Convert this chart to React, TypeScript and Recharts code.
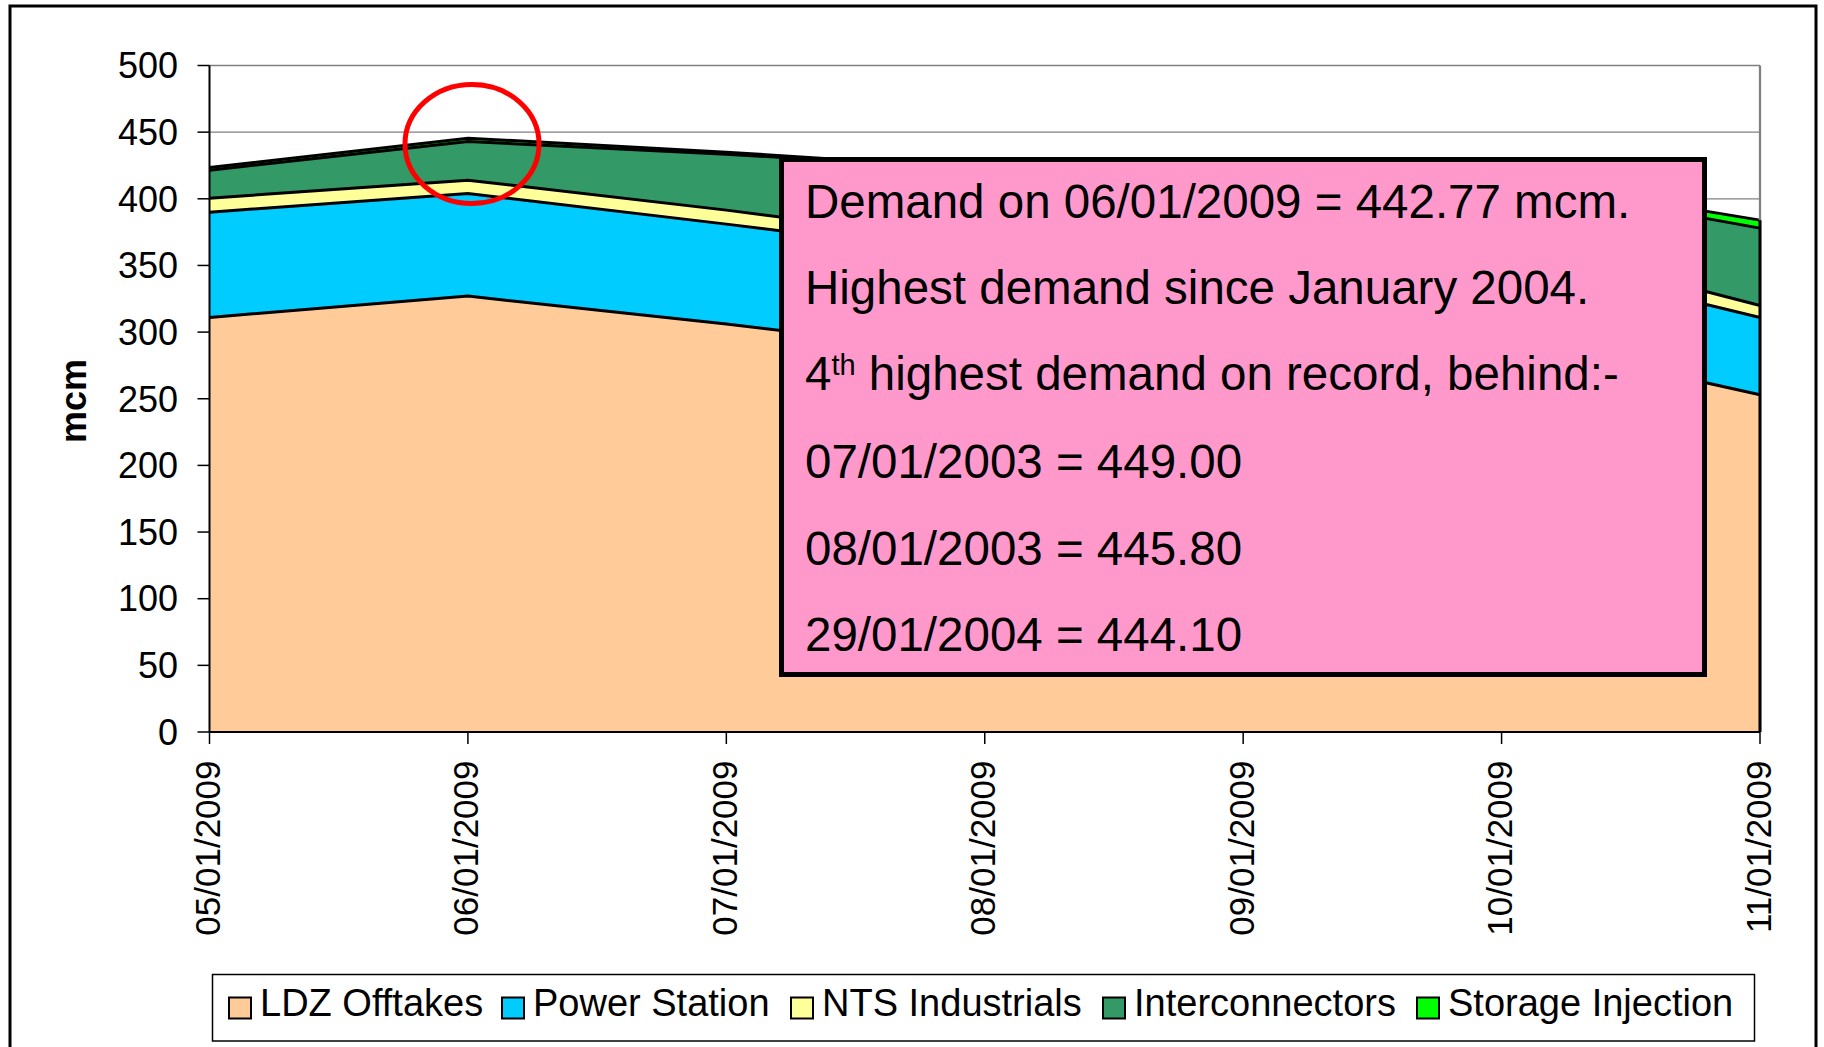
import React from 'react';
import { AreaChart, Area, XAxis, YAxis, CartesianGrid, ReferenceLine } from 'recharts';

// ---- data ----
const dates = ['05/01/2009', '06/01/2009', '07/01/2009', '08/01/2009', '09/01/2009', '10/01/2009', '11/01/2009'];
const ldzOfftakes = [311, 327, 306, 283, 290, 296, 253];
const powerStation = [79, 77, 75, 74, 68, 62, 58];
const ntsIndustrials = [10.5, 10, 10.5, 10, 11, 12, 9];
const interconnectors = [21, 29, 42, 55, 48, 43, 58];
const storageInjection = [2, 2.5, 1.5, 0.5, 2, 3, 6];
const yTicks = [0, 50, 100, 150, 200, 250, 300, 350, 400, 450, 500];

const seriesNames = ['LDZ Offtakes', 'Power Station', 'NTS Industrials', 'Interconnectors', 'Storage Injection'];
const seriesKeys = ['ldz', 'power', 'nts', 'inter', 'storage'];
const seriesColors = ['#FFCC99', '#00CCFF', '#FFFF99', '#339966', '#00FF00'];

const noteLines = [
  'Demand on 06/01/2009 = 442.77 mcm.',
  'Highest demand since January 2004.',
  '4|th| highest demand on record, behind:-',
  '07/01/2003 = 449.00',
  '08/01/2003 = 445.80',
  '29/01/2004 = 444.10',
];

const data = dates.map((d, i) => ({
  date: d,
  ldz: ldzOfftakes[i],
  power: powerStation[i],
  nts: ntsIndustrials[i],
  inter: interconnectors[i],
  storage: storageInjection[i],
}));

const lastIdx = dates.length - 1;
const lastTotal =
  ldzOfftakes[lastIdx] + powerStation[lastIdx] + ntsIndustrials[lastIdx] + interconnectors[lastIdx] + storageInjection[lastIdx];

const FONT = '"Liberation Sans", Arial, Helvetica, sans-serif';

// layout constants (pixels)
const legendItemX = [228, 501, 790, 1102, 1416];
const noteBaselines = [218, 304, 390, 478, 565, 651];

const XTick = (props: any) => {
  const { x, y, payload } = props;
  const bx = x + 10.5;
  return (
    <text
      x={bx}
      y={y}
      transform={`rotate(-90, ${bx}, ${y})`}
      textAnchor="end"
      fontSize={35}
      fontFamily={FONT}
      fill="#000"
    >
      {payload.value}
    </text>
  );
};

export default function App() {
  return (
    <div style={{ position: 'absolute', left: 0, top: 0, width: 1824, height: 1047, overflow: 'hidden', background: '#fff' }}>
      <AreaChart
        width={1824}
        height={1047}
        data={data}
        margin={{ top: 65.5, right: 64, bottom: 115, left: 89.5 }}
      >
        <CartesianGrid vertical={false} stroke="#808080" strokeWidth={1.3} />
        <XAxis
          dataKey="date"
          height={200}
          interval={0}
          tickSize={12}
          tickMargin={16.5}
          tick={<XTick />}
          axisLine={{ stroke: '#000', strokeWidth: 2 }}
          tickLine={{ stroke: '#000', strokeWidth: 1.5 }}
        />
        <YAxis
          width={120}
          domain={[0, 500]}
          ticks={yTicks}
          interval={0}
          tickSize={12}
          tickMargin={19.5}
          tick={{ fontSize: 36, fill: '#000', fontFamily: FONT }}
          axisLine={{ stroke: '#000', strokeWidth: 2 }}
          tickLine={{ stroke: '#000', strokeWidth: 1.5 }}
        />
        {seriesKeys.map((k, i) => (
          <Area
            key={'fill-' + k}
            type="linear"
            dataKey={k}
            name={seriesNames[i]}
            stackId="fill"
            stroke="none"
            fill={seriesColors[i]}
            fillOpacity={1}
            isAnimationActive={false}
            dot={false}
            activeDot={false}
          />
        ))}
        {seriesKeys.map((k, i) => (
          <Area
            key={'line-' + k}
            type="linear"
            dataKey={k}
            name={seriesNames[i] + ' outline'}
            stackId="line"
            stroke="#000"
            strokeWidth={3}
            fill="none"
            isAnimationActive={false}
            dot={false}
            activeDot={false}
            legendType="none"
          />
        ))}
        <ReferenceLine x={dates[lastIdx]} stroke="#808080" strokeWidth={2.3} />
        <ReferenceLine
          segment={[
            { x: dates[lastIdx], y: 0 },
            { x: dates[lastIdx], y: lastTotal },
          ]}
          stroke="#000"
          strokeWidth={3}
        />
      </AreaChart>

      <svg
        width={1824}
        height={1047}
        style={{ position: 'absolute', left: 0, top: 0, pointerEvents: 'none' }}
      >
        {/* outer chart border */}
        <rect x={10} y={6} width={1806} height={1100} fill="none" stroke="#000" strokeWidth={3} />

        {/* y-axis title */}
        <text
          x={86}
          y={401}
          transform="rotate(-90, 86, 401)"
          textAnchor="middle"
          fontSize={36}
          fontWeight="bold"
          fontFamily={FONT}
          fill="#000"
        >
          mcm
        </text>

        {/* highlight ellipse */}
        <ellipse cx={472} cy={144} rx={67} ry={59.5} fill="none" stroke="#FF0000" strokeWidth={5} />

        {/* note box */}
        <rect x={781.5} y={159.5} width={923} height={515} fill="#FF99CC" stroke="#000" strokeWidth={5} />
        {noteLines.map((line, i) => {
          const parts = line.split('|');
          if (parts.length === 3) {
            return (
              <text key={i} x={805} y={noteBaselines[i]} fontSize={47.5} fontFamily={FONT} fill="#000">
                <tspan>{parts[0]}</tspan>
                <tspan fontSize={29} dy={-15}>{parts[1]}</tspan>
                <tspan dy={15}>{parts[2]}</tspan>
              </text>
            );
          }
          return (
            <text key={i} x={805} y={noteBaselines[i]} fontSize={47.5} fontFamily={FONT} fill="#000">
              {line}
            </text>
          );
        })}

        {/* legend */}
        <rect x={212.5} y={974.5} width={1542} height={66.5} fill="#fff" stroke="#000" strokeWidth={1.5} />
        {seriesNames.map((name, i) => (
          <g key={name}>
            <rect
              x={legendItemX[i] + 1}
              y={997.5}
              width={22}
              height={21}
              fill={seriesColors[i]}
              stroke="#000"
              strokeWidth={2}
            />
            <text x={legendItemX[i] + 32} y={1015.7} fontSize={38} fontFamily={FONT} fill="#000">
              {name}
            </text>
          </g>
        ))}
      </svg>
    </div>
  );
}
